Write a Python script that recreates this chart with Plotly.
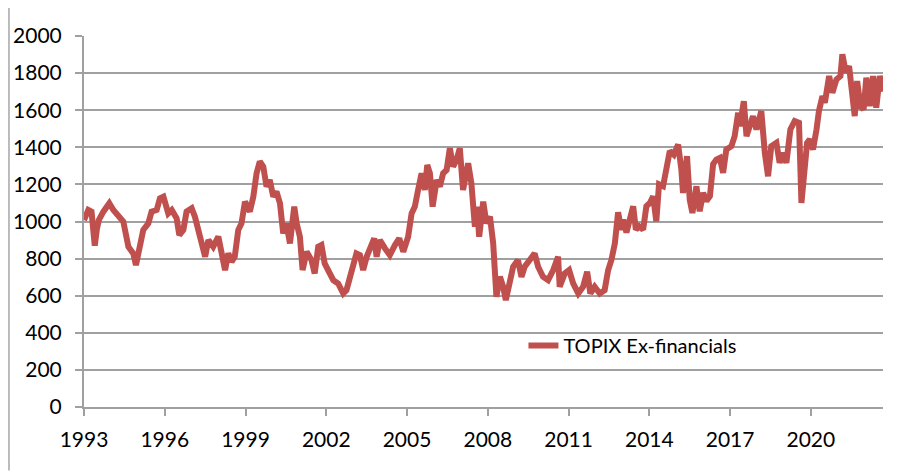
import plotly.graph_objects as go

# Decimal-year positions and TOPIX Ex-financials index levels
years = [
    1993.00, 1993.16, 1993.28, 1993.35, 1993.40, 1993.48, 1993.55, 1993.72, 1993.94, 1994.09,
    1994.27, 1994.46, 1994.65, 1994.83, 1994.93, 1995.05, 1995.20, 1995.39, 1995.51, 1995.70,
    1995.82, 1995.95, 1996.13, 1996.26, 1996.44, 1996.54, 1996.69, 1996.81, 1997.00, 1997.12,
    1997.25, 1997.37, 1997.50, 1997.62, 1997.80, 1997.99, 1998.11, 1998.24, 1998.36, 1998.48,
    1998.60, 1998.73, 1998.85, 1998.98, 1999.16, 1999.29, 1999.41, 1999.53, 1999.66, 1999.78,
    1999.90, 2000.03, 2000.15, 2000.28, 2000.40, 2000.52, 2000.65, 2000.81, 2000.90, 2001.02,
    2001.12, 2001.27, 2001.45, 2001.57, 2001.70, 2001.82, 2001.94, 2002.07, 2002.26, 2002.44,
    2002.63, 2002.75, 2002.88, 2003.00, 2003.12, 2003.25, 2003.37, 2003.50, 2003.68, 2003.78,
    2003.87, 2003.99, 2004.18, 2004.36, 2004.55, 2004.71, 2004.86, 2005.04, 2005.17, 2005.29,
    2005.41, 2005.54, 2005.66, 2005.75, 2005.85, 2005.95, 2006.10, 2006.22, 2006.34, 2006.47,
    2006.59, 2006.71, 2006.84, 2006.96, 2007.08, 2007.27, 2007.39, 2007.52, 2007.60, 2007.68,
    2007.83, 2007.95, 2008.08, 2008.20, 2008.26, 2008.32, 2008.45, 2008.57, 2008.67, 2008.82,
    2008.94, 2009.12, 2009.25, 2009.37, 2009.56, 2009.74, 2009.87, 2010.05, 2010.24, 2010.43,
    2010.61, 2010.67, 2010.86, 2011.02, 2011.17, 2011.36, 2011.54, 2011.69, 2011.81, 2011.97,
    2012.16, 2012.34, 2012.47, 2012.59, 2012.72, 2012.84, 2012.96, 2013.03, 2013.15, 2013.28,
    2013.40, 2013.50, 2013.62, 2013.77, 2013.89, 2014.02, 2014.14, 2014.26, 2014.36, 2014.51,
    2014.64, 2014.76, 2014.91, 2015.07, 2015.19, 2015.25, 2015.40, 2015.50, 2015.60, 2015.75,
    2015.87, 2016.00, 2016.12, 2016.25, 2016.37, 2016.49, 2016.62, 2016.74, 2016.86, 2017.05,
    2017.17, 2017.30, 2017.36, 2017.51, 2017.61, 2017.73, 2017.85, 2017.98, 2018.16, 2018.29,
    2018.41, 2018.53, 2018.72, 2018.84, 2018.97, 2019.09, 2019.24, 2019.40, 2019.56, 2019.65,
    2019.74, 2019.86, 2019.96, 2020.08, 2020.21, 2020.30, 2020.43, 2020.52, 2020.68, 2020.80,
    2020.95, 2021.10, 2021.17, 2021.30, 2021.42, 2021.54, 2021.63, 2021.72, 2021.84, 2021.96,
    2022.06, 2022.19, 2022.31, 2022.43, 2022.56, 2022.66, 2022.72,
]
topix_ex_fin = [
    1008, 1062, 1053, 950, 870, 960, 1008, 1053, 1098, 1062,
    1026, 1000, 864, 828, 765, 846, 954, 990, 1053, 1062,
    1125, 1134, 1044, 1062, 1017, 927, 954, 1053, 1071, 1026,
    954, 900, 810, 900, 864, 918, 846, 738, 828, 783,
    810, 954, 990, 1107, 1053, 1134, 1260, 1323, 1296, 1188,
    1224, 1134, 1161, 1098, 936, 990, 882, 1080, 990, 918,
    738, 837, 792, 720, 864, 873, 774, 738, 684, 666,
    612, 630, 702, 756, 828, 819, 738, 810, 864, 909,
    810, 900, 855, 819, 873, 909, 837, 918, 1044, 1080,
    1170, 1260, 1170, 1305, 1260, 1080, 1224, 1188, 1260, 1278,
    1395, 1296, 1332, 1395, 1170, 1314, 1206, 972, 1080, 918,
    1107, 990, 1026, 882, 738, 594, 702, 648, 576, 684,
    756, 792, 702, 756, 792, 828, 756, 702, 684, 738,
    810, 648, 720, 738, 666, 612, 648, 729, 612, 648,
    612, 630, 738, 792, 882, 1050, 954, 1010, 940, 1028,
    1082, 956, 974, 956, 1082, 1100, 1136, 1001, 1200, 1190,
    1300, 1380, 1360, 1415, 1280, 1154, 1352, 1118, 1046, 1190,
    1055, 1154, 1110, 1136, 1310, 1334, 1343, 1262, 1388, 1406,
    1460, 1586, 1514, 1649, 1460, 1514, 1568, 1496, 1595, 1370,
    1244, 1406, 1424, 1316, 1370, 1316, 1496, 1541, 1532, 1100,
    1262, 1424, 1442, 1388, 1496, 1595, 1676, 1640, 1784, 1694,
    1766, 1784, 1901, 1802, 1838, 1676, 1568, 1757, 1622, 1604,
    1775, 1622, 1784, 1613, 1784, 1730, 1703,
]

x_tick_years = [1993, 1996, 1999, 2002, 2005, 2008, 2011, 2014, 2017, 2020]
x_tick_labels = [str(y) for y in x_tick_years]
y_ticks = list(range(0, 2001, 200))

FONT = "Lato"
GRID = "#a0a0a0"

fig = go.Figure()
fig.add_trace(go.Scatter(
    x=years, y=topix_ex_fin, mode="lines", name="TOPIX Ex-financials",
    line=dict(color="#C0504D", width=6),
))

# the page body has an 8px margin, so the plot area is offset by 8px in the page
fig.update_layout(
    width=898, height=474,
    margin=dict(l=76, r=23, t=28, b=75, autoexpand=False),
    paper_bgcolor="white", plot_bgcolor="white",
    font=dict(family=FONT, size=21, color="#000000"),
    showlegend=True,
    legend=dict(x=0.550, y=0.166, xanchor="left", yanchor="middle",
                bgcolor="rgba(0,0,0,0)", font=dict(family=FONT, size=20, color="#000000")),
    xaxis=dict(range=[1993, 2022.68], tickvals=x_tick_years, ticktext=x_tick_labels,
               automargin=False,
               showgrid=False, zeroline=False, showline=True, linecolor=GRID, linewidth=2,
               ticks="outside", ticklen=7, tickwidth=2, tickcolor=GRID,
               ticklabelstandoff=6, tickfont=dict(family=FONT, size=21, color="#000000")),
    yaxis=dict(range=[0, 2000], tickvals=y_ticks, showgrid=True, gridcolor=GRID, gridwidth=2,
               automargin=False,
               zeroline=False, showline=True, linecolor=GRID, linewidth=2,
               ticks="outside", ticklen=7, tickwidth=2, tickcolor=GRID,
               ticklabelstandoff=9, tickfont=dict(family=FONT, size=21, color="#000000")),
    shapes=[dict(type="line", xref="paper", yref="paper", x0=-0.0939, x1=-0.0939, y0=1.1, y1=-0.171,
                 line=dict(color="#a6a6a6", width=1.5))],
)

fig.write_html("out.html")
